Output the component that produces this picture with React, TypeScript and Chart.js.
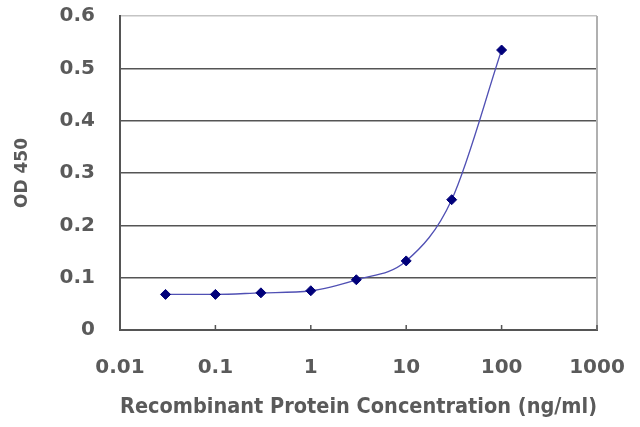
import { useEffect, useRef } from 'react'
import { Chart, registerables } from 'chart.js'

Chart.register(...registerables)

const concentrations = [0.03, 0.1, 0.3, 1, 3, 10, 30, 100]
const od450 = [0.068, 0.068, 0.071, 0.075, 0.096, 0.132, 0.249, 0.535]
const xTicks = [0.01, 0.1, 1, 10, 100, 1000]
const yTicks = [0, 0.1, 0.2, 0.3, 0.4, 0.5, 0.6]

const FONT = '"DejaVu Sans", sans-serif'
const TEXT = '#5a5a5a'

// right border of the plot and the small inward ticks on the x axis
const framePlugin = {
  id: 'frame',
  beforeDatasetsDraw(chart: Chart) {
    const { ctx, chartArea } = chart
    const x = chart.scales.x
    ctx.save()
    ctx.strokeStyle = '#b0b0b0'
    ctx.lineWidth = 2
    ctx.beginPath()
    ctx.moveTo(chartArea.right, chartArea.top)
    ctx.lineTo(chartArea.right, chartArea.bottom)
    ctx.stroke()
    ctx.strokeStyle = '#555'
    ctx.lineWidth = 1.5
    x.ticks.forEach(t => {
      const px = x.getPixelForValue(t.value)
      ctx.beginPath()
      ctx.moveTo(px, chartArea.bottom - 5)
      ctx.lineTo(px, chartArea.bottom)
      ctx.stroke()
    })
    ctx.restore()
  }
}

export default function App() {
  const canvasRef = useRef<HTMLCanvasElement | null>(null)
  const chartRef = useRef<Chart | null>(null)

  useEffect(() => {
    const ctx = canvasRef.current?.getContext('2d')
    if (!ctx) return

    chartRef.current = new Chart(ctx, {
      type: 'line',
      data: {
        datasets: [
          {
            data: concentrations.map((c, i) => ({ x: c, y: od450[i] })),
            borderColor: '#5050b4',
            borderWidth: 1.3,
            cubicInterpolationMode: 'monotone',
            pointStyle: 'rectRot',
            pointRadius: 5,
            pointBackgroundColor: '#00007a',
            pointBorderColor: '#00007a',
            pointBorderWidth: 1
          }
        ]
      },
      options: {
        animation: false,
        responsive: true,
        maintainAspectRatio: false,
        layout: { padding: { top: 16, right: 43, left: 0, bottom: 0 } },
        plugins: {
          legend: { display: false },
          tooltip: { enabled: false }
        },
        scales: {
          x: {
            type: 'logarithmic',
            min: 0.01,
            max: 1000,
            afterBuildTicks: scale => {
              scale.ticks = xTicks.map(v => ({ value: v, major: true }))
            },
            afterFit: scale => {
              scale.height = 97
              scale.paddingLeft = 0
              scale.paddingRight = 0
            },
            ticks: {
              autoSkip: false,
              maxRotation: 0,
              padding: 26,
              color: TEXT,
              font: { family: FONT, size: 20, weight: 'bold' },
              callback: value => String(value)
            },
            grid: { display: true, drawOnChartArea: false, drawTicks: false },
            border: { color: '#555', width: 2 },
            title: {
              display: true,
              text: 'Recombinant Protein Concentration (ng/ml)',
              color: TEXT,
              font: { family: FONT, size: 21, weight: 'bold' },
              padding: { top: 0, bottom: 7 }
            }
          },
          y: {
            min: 0,
            max: 0.6,
            afterBuildTicks: scale => {
              scale.ticks = yTicks.map(v => ({ value: v }))
            },
            afterFit: scale => {
              scale.width = 120
              scale.paddingTop = 0
              scale.paddingBottom = 0
            },
            ticks: {
              padding: 25,
              color: TEXT,
              font: { family: FONT, size: 20, weight: 'bold' },
              callback: value => String(value)
            },
            grid: {
              drawTicks: false,
              lineWidth: 1.5,
              color: c => (c.tick && c.tick.value === 0.6 ? '#c4c4c4' : '#555')
            },
            border: { color: '#555', width: 2 },
            title: {
              display: true,
              text: 'OD 450',
              color: TEXT,
              font: { family: FONT, size: 17, weight: 'bold' },
              padding: { top: 12, bottom: 0 }
            }
          }
        }
      },
      plugins: [framePlugin]
    })

    return () => {
      if (chartRef.current) {
        chartRef.current.destroy()
        chartRef.current = null
      }
    }
  }, [])

  return (
    <div style={{ position: 'absolute', left: 0, top: 0, width: 640, height: 427, background: '#fff' }}>
      <canvas ref={canvasRef}></canvas>
    </div>
  )
}
